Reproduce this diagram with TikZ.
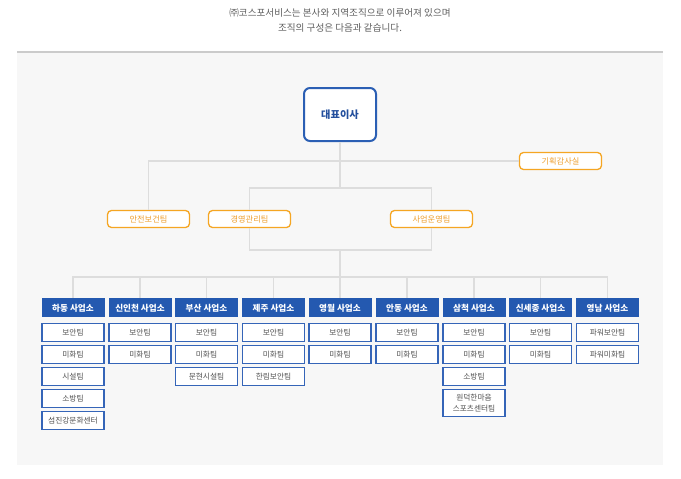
\documentclass[tikz,border=0pt]{standalone}
\usepackage{fontspec}
\setmainfont{Noto Sans CJK KR}
\definecolor{captext}{HTML}{5E5E5E}
\definecolor{rulegray}{HTML}{CBCBCB}
\definecolor{panel}{HTML}{F7F7F7}
\definecolor{linkgray}{HTML}{DDDDDD}
\definecolor{ceoblue}{HTML}{2B5FB4}
\definecolor{ceotext}{HTML}{234F9D}
\definecolor{staffline}{HTML}{F5A623}
\definecolor{stafftext}{HTML}{EE9F2E}
\definecolor{officeblue}{HTML}{2459B0}
\definecolor{teamline}{HTML}{3565B8}
\definecolor{teamtext}{HTML}{505050}
\begin{document}
\begin{tikzpicture}[x=1pt,y=-1pt,
    ceo/.style={draw=ceoblue,line width=2pt,rounded corners=6pt,fill=white,minimum width=72pt,minimum height=53pt,text=ceotext,font=\bfseries\fontsize{10.2}{12}\selectfont},
    staff/.style={draw=staffline,line width=1.3pt,rounded corners=4pt,fill=white,minimum width=82pt,minimum height=17pt,inner sep=0pt,text=stafftext,font=\fontsize{8.2}{9}\selectfont},
    office/.style={fill=officeblue,minimum width=63pt,minimum height=19pt,inner sep=0pt,text=white,font=\bfseries\fontsize{8.6}{9}\selectfont},
    team/.style={draw=teamline,line width=1.2pt,fill=white,minimum width=62pt,minimum height=17.5pt,inner sep=0pt,align=center,text=teamtext,font=\fontsize{7.7}{10.5}\selectfont},
    link/.style={draw=linkgray,line width=1.2pt}]
      \useasboundingbox (0,0) rectangle (681,479);
      \fill[panel] (17,53) rectangle (663,465);
      \draw[rulegray,line width=1.5pt] (17,52) -- (663,52);
      \node[align=center,text=captext,font=\fontsize{9.6}{14.5}\selectfont] (cap) at (340,20.5)
        {㈜코스포서비스는 본사와 지역조직으로 이루어져 있으며\\조직의 구성은 다음과 같습니다.};
      \path
        (340,114.5) node[ceo] (0){대표이사}
        (560.5,161) node[staff] (s0){기획감사실}
        (148.5,219) node[staff] (s1){안전보건팀}
        (249.5,219) node[staff] (s2){경영관리팀}
        (431.5,219) node[staff] (s3){사업운영팀};
      \path
        (73,307.8) node[office] (h1){하동 사업소}
        (140,307.8) node[office] (h2){신인천 사업소}
        (206.5,307.8) node[office] (h3){부산 사업소}
        (273.5,307.8) node[office] (h4){제주 사업소}
        (340,307.8) node[office] (h5){영월 사업소}
        (407,307.8) node[office] (h6){안동 사업소}
        (474,307.8) node[office] (h7){삼척 사업소}
        (540.5,307.8) node[office] (h8){신세종 사업소}
        (607.5,307.8) node[office] (h9){영남 사업소};
      \path
        (73,332.5) node[team] (h1a){보안팀}
        (73,354.5) node[team] (h1b){미화팀}
        (73,376.5) node[team] (h1c){시설팀}
        (73,398.5) node[team] (h1d){소방팀}
        (73,420.6) node[team] (h1e){섬진강문화센터}
        (140,332.5) node[team] (h2a){보안팀}
        (140,354.5) node[team] (h2b){미화팀}
        (206.5,332.5) node[team] (h3a){보안팀}
        (206.5,354.5) node[team] (h3b){미화팀}
        (206.5,376.5) node[team] (h3c){문현시설팀}
        (273.5,332.5) node[team] (h4a){보안팀}
        (273.5,354.5) node[team] (h4b){미화팀}
        (273.5,376.5) node[team] (h4c){한림보안팀}
        (340,332.5) node[team] (h5a){보안팀}
        (340,354.5) node[team] (h5b){미화팀}
        (407,332.5) node[team] (h6a){보안팀}
        (407,354.5) node[team] (h6b){미화팀}
        (474,332.5) node[team] (h7a){보안팀}
        (474,354.5) node[team] (h7b){미화팀}
        (474,376.5) node[team] (h7c){소방팀}
        (474,403.3) node[team,minimum height=27pt] (h7d){원덕한마음\\스포츠센터팀}
        (540.5,332.5) node[team] (h8a){보안팀}
        (540.5,354.5) node[team] (h8b){미화팀}
        (607.5,332.5) node[team] (h9a){파워보안팀}
        (607.5,354.5) node[team] (h9b){파워미화팀};
      \coordinate (j1) at (340,161);
      \coordinate (j2) at (340,188);
      \coordinate (j3) at (340,250);
      \coordinate (j4) at (340,277);
      \begin{scope}[link]
        \draw (0) to (j2);
        \draw (j1) -| (s1);
        \draw (j1) to (s0);
        \draw (j2) -| (s2);
        \draw (j2) -| (s3);
        \draw (s2) |- (j3);
        \draw (s3) |- (j3);
        \draw (j3) to (j4);
        \draw (j4) -| (h1);
        \draw (j4) -| (h2);
        \draw (j4) -| (h3);
        \draw (j4) -| (h4);
        \draw (j4) to (h5);
        \draw (j4) -| (h6);
        \draw (j4) -| (h7);
        \draw (j4) -| (h8);
        \draw (j4) -| (h9);
      \end{scope}
    \end{tikzpicture}
\end{document}
